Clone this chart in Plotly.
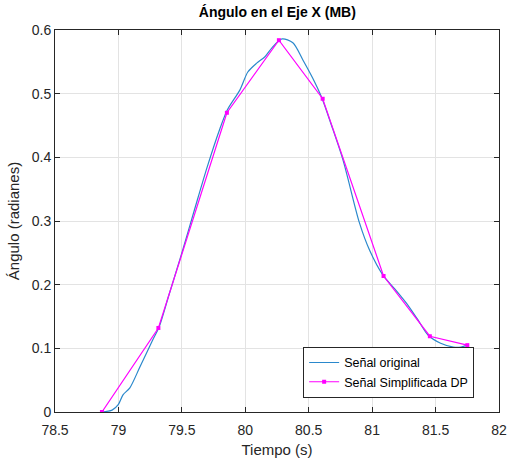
import plotly.graph_objects as go

# Señal original
t_orig = [78.87, 78.95, 79.0, 79.036, 79.09, 79.17, 79.27, 79.32, 79.4, 79.5, 79.6, 79.7,
          79.8, 79.86, 79.958, 80.02, 80.09, 80.155, 80.21, 80.29, 80.375, 80.454, 80.53,
          80.6, 80.68, 80.77, 80.9, 80.98, 81.085, 81.18, 81.27, 81.36, 81.44, 81.54,
          81.64, 81.7, 81.75]
y_orig = [0.0, 0.003, 0.012, 0.027, 0.038, 0.071, 0.113, 0.133, 0.185, 0.25, 0.318, 0.385,
          0.445, 0.475, 0.506, 0.534, 0.548, 0.558, 0.572, 0.586, 0.58, 0.553, 0.525,
          0.495, 0.45, 0.396, 0.297, 0.254, 0.215, 0.193, 0.171, 0.145, 0.121, 0.108,
          0.102, 0.102, 0.105]

# Señal simplificada Douglas-Peucker
t_dp = [78.87, 79.315, 79.855, 80.265, 80.61, 81.09, 81.455, 81.75]
y_dp = [0.0, 0.132, 0.47, 0.584, 0.492, 0.2136, 0.119, 0.105]

x_ticks = [78.5, 79, 79.5, 80, 80.5, 81, 81.5, 82]
y_ticks = [0, 0.1, 0.2, 0.3, 0.4, 0.5, 0.6]

FONT = "Liberation Sans, Arial"

fig = go.Figure()
fig.add_trace(go.Scatter(x=t_orig, y=y_orig, mode="lines", name="Señal original",
                         line=dict(color="#2A88CC", width=1.2, shape="spline", smoothing=0.8)))
fig.add_trace(go.Scatter(x=t_dp, y=y_dp, mode="lines+markers", name="Señal Simplificada DP",
                         line=dict(color="#FF00FF", width=1.2),
                         marker=dict(color="#FF00FF", size=4, symbol="square")))

axis_common = dict(showgrid=True, gridcolor="#E3E3E3", gridwidth=1, zeroline=False,
                   showline=True, linecolor="#262626", linewidth=1, mirror="ticks",
                   ticks="inside", ticklen=5, tickcolor="#262626",
                   ticklabeloverflow="allow", automargin=False,
                   tickfont=dict(family=FONT, size=14, color="#262626"))

fig.update_layout(
    width=507, height=462,
    margin=dict(l=55, r=8, t=30, b=50),
    paper_bgcolor="white", plot_bgcolor="white",
    title=dict(text="<b>Ángulo en el Eje X (MB)</b>", x=0.547, xanchor="center",
               y=0.985, yanchor="top", automargin=False,
               font=dict(family=FONT, size=14, color="black")),
    xaxis=dict(range=[78.5, 82], tickvals=x_ticks, ticktext=[str(v) for v in x_ticks],
               ticklabelstandoff=5,
               title=dict(text="Tiempo (s)", standoff=7,
                          font=dict(family=FONT, size=15, color="#262626")),
               **axis_common),
    yaxis=dict(range=[0, 0.6], tickvals=y_ticks, ticktext=[str(v) for v in y_ticks],
               title=dict(text="Ángulo (radianes)", standoff=8,
                          font=dict(family=FONT, size=15, color="#262626")),
               **axis_common),
    legend=dict(x=0.944, y=0.037, xanchor="right", yanchor="bottom",
                bgcolor="white", bordercolor="#262626", borderwidth=1,
                font=dict(family=FONT, size=12.5, color="black"),
                tracegroupgap=0, itemwidth=30),
    showlegend=True,
)

fig.write_html("out.html", config={"displayModeBar": False},
               post_script="document.body.style.margin='0';document.body.style.padding='0';")
